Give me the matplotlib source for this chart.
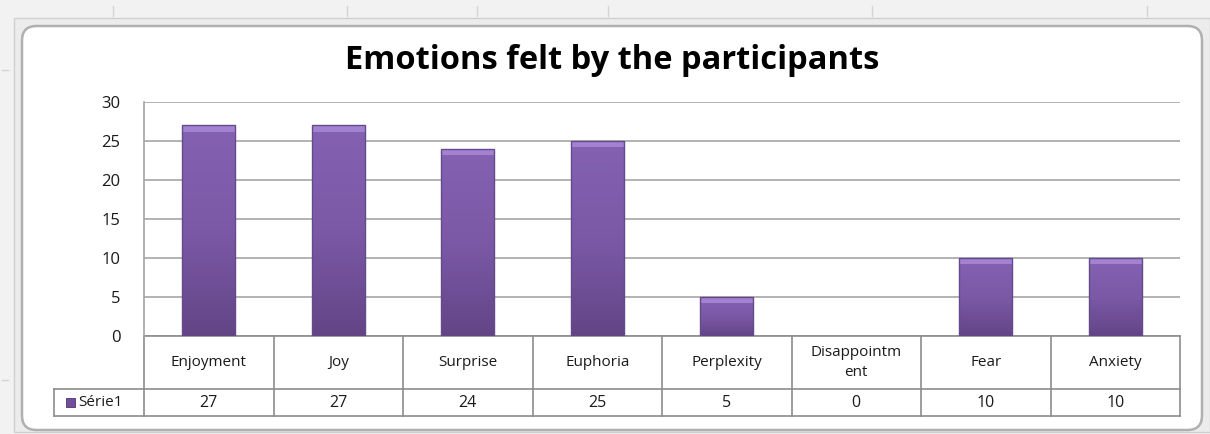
import matplotlib
matplotlib.use('Agg')
import matplotlib.pyplot as plt
import numpy as np
from matplotlib.patches import FancyBboxPatch, Rectangle
from matplotlib.lines import Line2D
import matplotlib.transforms as mtransforms

categories = ['Enjoyment', 'Joy', 'Surprise', 'Euphoria', 'Perplexity',
              'Disappointm\nent', 'Fear', 'Anxiety']
values = [27, 27, 24, 25, 5, 0, 10, 10]
series_name = 'Série1'
title = 'Emotions felt by the participants'

plt.rcParams['font.family'] = ['Open Sans', 'DejaVu Sans']

W, H = 1210, 434
fig = plt.figure(figsize=(W / 100, H / 100), dpi=100)
fig.patch.set_facecolor('#f2f2f2')

# spreadsheet-like cell lines behind the chart
for xv in [113, 347, 477, 608, 872, 1147]:
    fig.add_artist(Line2D([xv / W, xv / W], [1 - 6 / H, 1 - 16 / H], color='#d4d4d4', lw=1, zorder=-3))
for yv in [70, 380]:
    fig.add_artist(Line2D([2 / W, 8 / W], [1 - yv / H, 1 - yv / H], color='#d4d4d4', lw=1, zorder=-3))

# outer chart frame
fig.add_artist(FancyBboxPatch((14 / W, 2 / H), 1196 / W, (H - 20) / H,
                              boxstyle='square,pad=0', fc='#ececec', ec='#d0d0d0', lw=1,
                              zorder=-2))
fig.add_artist(FancyBboxPatch((22 / W, 4 / H), 1180 / W, (H - 30) / H,
                              boxstyle='round,pad=0,rounding_size=0.012',
                              mutation_aspect=W / H,
                              fc='white', ec='#b0b0b0', lw=1.8, zorder=-1))

ax = fig.add_axes([144 / W, 1 - 336 / H, 1036 / W, 234 / H])
ax.set_facecolor('none')
x = np.arange(len(categories))
ax.set_xlim(-0.5, len(categories) - 0.5)
ax.set_ylim(0, 30)
ax.set_yticks(range(0, 31, 5))
ax.yaxis.grid(True, color='#a6a6a6', lw=1.2)
ax.set_axisbelow(True)
for s in ['top', 'right', 'bottom']:
    ax.spines[s].set_visible(False)
ax.spines['left'].set_color('#a6a6a6')
ax.spines['left'].set_linewidth(1.2)
ax.tick_params(axis='y', length=0, pad=17, labelsize=12, labelcolor='#1a1a1a')
ax.tick_params(axis='x', length=0, labelbottom=False)

bars = ax.bar(x, values, width=0.41, color='#7d5aa8', zorder=2)
grad = np.linspace(0, 1, 100).reshape(-1, 1)
cmap = matplotlib.colors.LinearSegmentedColormap.from_list('p', ['#634586', '#7b59a7', '#8462b2'])
for b in bars:
    h = b.get_height()
    if h <= 0:
        continue
    bx, bw = b.get_x(), b.get_width()
    im = ax.imshow(grad, extent=(bx, bx + bw, 0, h), origin='lower', cmap=cmap,
                   aspect='auto', zorder=2.5)
    im.set_clip_path(b)
    ax.add_patch(Rectangle((bx, h - 0.8), bw, 0.8, fc='#a482d2', ec='none', zorder=3))
    ax.add_patch(Rectangle((bx, 0), bw, h, fc='none', ec='#654a8a', lw=1.0, zorder=3))
ax.set_xlim(-0.5, len(categories) - 0.5)
ax.set_ylim(0, 30)

# data table below the plot
trans = mtransforms.blended_transform_factory(ax.transData, ax.transAxes)
y_top, y_mid, y_bot = 0.0, -0.2265, -0.342
x_left = -0.5 - 90 / 1036 * len(categories)
lc = '#8c8c8c'
edges = np.arange(len(categories) + 1) - 0.5
for e in edges:
    ax.add_line(Line2D([e, e], [y_top, y_bot], transform=trans, color=lc, lw=1.2, clip_on=False))
ax.add_line(Line2D([edges[0], edges[-1]], [y_top, y_top], transform=trans, color=lc, lw=1.2, clip_on=False))
ax.add_line(Line2D([x_left, edges[-1]], [y_mid, y_mid], transform=trans, color=lc, lw=1.2, clip_on=False))
ax.add_line(Line2D([x_left, edges[-1]], [y_bot, y_bot], transform=trans, color=lc, lw=1.2, clip_on=False))
ax.add_line(Line2D([x_left, x_left], [y_mid, y_bot], transform=trans, color=lc, lw=1.2, clip_on=False))

for xi, cat, v in zip(x, categories, values):
    ax.text(xi, (y_top + y_mid) / 2, cat, transform=trans, ha='center', va='center',
            fontsize=11, color='#1a1a1a', linespacing=1.45)
    ax.text(xi, (y_mid + y_bot) / 2, str(v), transform=trans, ha='center', va='center',
            fontsize=11.5, color='#1a1a1a')

key_x = x_left + 0.09
ax.add_patch(Rectangle((key_x, (y_mid + y_bot) / 2 - 0.021), 0.075, 0.042, transform=trans,
                       fc='#6f4f9c', ec='#4c3470', lw=0.6, clip_on=False))
ax.text(key_x + 0.1, (y_mid + y_bot) / 2, series_name, transform=trans, ha='left', va='center',
        fontsize=11, color='#1a1a1a')

fig.text(612 / W, 1 - 60 / H, title, ha='center', va='center', fontsize=23.5,
         fontweight='bold', color='black')

fig.savefig('out.png', dpi=100, facecolor=fig.get_facecolor())
